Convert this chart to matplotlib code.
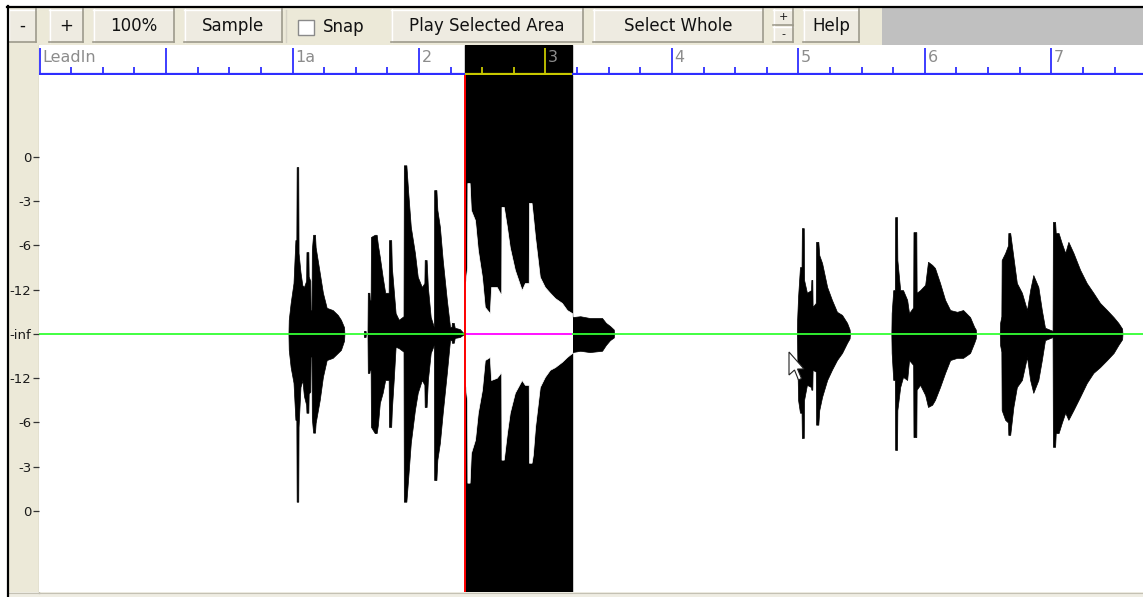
# -*- coding: utf-8 -*-
"""
Waveform editor view - audio track with bar ruler and selected area
Sortie: out.png (1143x597)
"""
import numpy as np
import matplotlib
matplotlib.use('Agg')
from matplotlib import pyplot as plt
from matplotlib.patches import Rectangle, Polygon
from matplotlib.lines import Line2D

##############################################################################
# DATA
##############################################################################

# waveform envelope, one list per note : (beat, top, bottom)
# beat 0 = bar "1a", amplitude in scale steps (4 = 0 dB)
CLIP1 = [(-0.13, 0, 0), (-0.12, 0.32, -0.36), (-0.06, 0.70, -0.75), (0.03, 1.15, -1.10),
         (0.09, 2.12, -1.94), (0.12, 2.12, -1.94), (0.13, 3.77, -3.79), (0.18, 3.77, -3.79),
         (0.19, 1.83, -2.10), (0.25, 1.40, -1.20), (0.31, 1.10, -1.04), (0.36, 1.06, -1.40),
         (0.43, 1.20, -1.60), (0.44, 1.85, -1.78), (0.50, 1.85, -1.78), (0.51, 1.30, -1.35),
         (0.56, 1.20, -1.30), (0.57, 0.54, -0.51), (0.60, 0.54, -0.51), (0.61, 1.90, -1.90),
         (0.65, 2.24, -2.23), (0.71, 2.24, -2.23), (0.73, 1.96, -2.01), (0.86, 1.38, -1.49),
         (0.96, 0.93, -0.97), (1.08, 0.59, -0.59), (1.27, 0.54, -0.54), (1.43, 0.43, -0.43),
         (1.53, 0.32, -0.36), (1.63, 0.15, -0.15), (1.64, 0, 0)]

CLIP2 = [(2.25, 0, 0), (2.26, 0.07, -0.07), (2.31, 0.07, -0.07), (2.32, 0, 0),
         (2.37, 0, 0), (2.38, 0.93, -0.88), (2.43, 0.93, -0.88), (2.44, 0.77, -0.81),
         (2.47, 0.77, -0.81), (2.48, 2.19, -2.10), (2.60, 2.24, -2.24), (2.66, 2.24, -2.24),
         (2.70, 2.01, -2.05), (2.76, 1.74, -1.56), (2.85, 1.29, -1.33), (2.93, 0.93, -1.04),
         (3.04, 0.93, -1.04), (3.05, 2.12, -2.10), (3.12, 2.12, -2.10), (3.14, 1.51, -1.72),
         (3.20, 0.99, -1.04), (3.26, 0.47, -0.29), (3.36, 0.32, -0.32), (3.51, 0.40, -0.40),
         (3.52, 3.81, -3.79), (3.60, 3.81, -3.79), (3.66, 3.18, -3.23), (3.74, 2.42, -2.46),
         (3.87, 1.83, -1.72), (3.96, 1.29, -1.33), (4.09, 1.06, -1.04), (4.17, 1.15, -1.15),
         (4.18, 1.67, -1.65), (4.24, 1.67, -1.65), (4.28, 1.06, -1.04), (4.37, 0.38, -0.43),
         (4.47, 0.16, -0.25), (4.48, 3.25, -3.30), (4.55, 3.25, -3.30), (4.58, 2.80, -2.84),
         (4.66, 2.42, -2.46), (4.75, 1.67, -1.78), (4.88, 0.77, -0.88), (4.98, 0.16, -0.14),
         (5.03, 0.16, -0.14), (5.04, 0.25, -0.20), (5.10, 0.25, -0.20), (5.13, 0.14, -0.09),
         (5.29, 0.11, -0.07), (5.43, 0, 0)]

CLIP3 = [(5.44, 0.99, -0.97), (5.52, 1.50, -1.50), (5.53, 3.41, -3.36), (5.60, 3.41, -3.36),
         (5.64, 2.80, -2.69), (5.77, 2.57, -2.39), (5.86, 1.90, -1.78), (5.99, 1.29, -1.26),
         (6.08, 0.61, -0.59), (6.24, 0.47, -0.52), (6.28, 1.06, -1.04), (6.46, 1.06, -0.99),
         (6.60, 0.88, -0.86), (6.61, 2.87, -2.84), (6.68, 2.87, -2.84), (6.78, 2.42, -2.24),
         (6.87, 1.96, -1.78), (7.03, 1.45, -1.33), (7.25, 0.99, -1.04), (7.35, 1.15, -1.15),
         (7.47, 1.15, -1.15), (7.48, 2.96, -2.91), (7.56, 2.96, -2.91), (7.60, 2.69, -2.73),
         (7.67, 2.19, -2.10), (7.82, 1.29, -1.20), (7.98, 1.06, -0.97), (8.14, 0.93, -0.81),
         (8.30, 0.81, -0.75), (8.52, 0.70, -0.63), (8.68, 0.54, -0.52), (8.84, 0.47, -0.43),
         (8.85, 0.38, -0.41), (9.10, 0.40, -0.38), (9.40, 0.36, -0.41), (9.79, 0.36, -0.38),
         (9.91, 0.25, -0.25), (10.04, 0.18, -0.14), (10.16, 0.10, -0.08), (10.17, 0, 0)]

CLIP4 = [(15.95, 0, 0), (15.96, 0.32, -0.29), (15.99, 0.84, -1.49), (16.05, 1.51, -1.78),
         (16.10, 1.51, -1.78), (16.11, 2.39, -2.35), (16.17, 2.39, -2.35), (16.18, 1.22, -1.49),
         (16.27, 0.93, -1.15), (16.40, 0.99, -1.20), (16.41, 1.22, -1.26), (16.44, 1.22, -1.26),
         (16.45, 0.61, -0.81), (16.55, 0.70, -0.85), (16.56, 2.08, -2.05), (16.63, 2.08, -2.05),
         (16.66, 1.78, -1.72), (16.75, 1.60, -1.42), (16.91, 1.06, -1.04), (17.06, 0.77, -0.81),
         (17.22, 0.50, -0.59), (17.38, 0.43, -0.43), (17.54, 0.25, -0.20), (17.62, 0.10, -0.10),
         (17.63, 0, 0)]

CLIP5 = [(18.94, 0, 0), (18.95, 0.47, -0.43), (19.00, 0.99, -1.04), (19.05, 0.99, -1.04),
         (19.06, 2.64, -2.62), (19.12, 2.64, -2.62), (19.13, 1.67, -1.72), (19.22, 0.99, -1.20),
         (19.31, 0.99, -0.97), (19.44, 0.77, -1.04), (19.50, 0.47, -0.59), (19.63, 0.60, -0.70),
         (19.64, 2.30, -2.33), (19.73, 2.30, -2.33), (19.74, 0.93, -1.26), (19.85, 0.99, -1.15),
         (20.01, 1.11, -1.38), (20.10, 1.63, -1.65), (20.23, 1.56, -1.60), (20.32, 1.49, -1.49),
         (20.48, 1.15, -1.20), (20.64, 0.77, -0.88), (20.80, 0.54, -0.59), (21.02, 0.50, -0.54),
         (21.21, 0.54, -0.54), (21.43, 0.38, -0.43), (21.56, 0.16, -0.20), (21.61, 0.10, -0.10),
         (21.62, 0, 0)]

CLIP6 = [(22.37, 0, 0), (22.38, 0.25, -0.25), (22.42, 0.40, -0.40), (22.43, 1.67, -1.72),
         (22.54, 1.83, -1.94), (22.63, 2.00, -2.00), (22.64, 2.28, -2.28), (22.70, 2.28, -2.28),
         (22.80, 1.74, -1.65), (22.91, 1.15, -1.20), (23.07, 0.93, -1.04), (23.23, 0.54, -0.52),
         (23.33, 0.99, -1.04), (23.43, 1.33, -1.33), (23.59, 1.06, -1.04), (23.70, 0.54, -0.59),
         (23.80, 0.14, -0.14), (24.04, 0.07, -0.07), (24.05, 2.53, -2.55), (24.12, 2.53, -2.55),
         (24.14, 2.28, -2.24), (24.23, 2.28, -2.24), (24.33, 2.05, -2.01), (24.44, 1.83, -1.78),
         (24.54, 2.08, -1.94), (24.70, 1.83, -1.72), (24.91, 1.45, -1.42), (25.12, 1.15, -1.11),
         (25.33, 0.93, -0.88), (25.54, 0.70, -0.75), (25.76, 0.54, -0.59), (25.97, 0.38, -0.43),
         (26.12, 0.25, -0.25), (26.24, 0.12, -0.12), (26.25, 0, 0)]

CLIPS = [CLIP1, CLIP2, CLIP3, CLIP4, CLIP5, CLIP6]

# selected area (beats)
SEL_START = 5.44
SEL_END = 8.84

# bar ruler
BAR_BEATS = [-8, -4, 0, 4, 8, 12, 16, 20, 24]
BAR_LABELS = ['LeadIn', '', '1a', '2', '3', '4', '5', '6', '7']

# level scale
LEVEL_POS = [4, 3, 2, 1, 0, -1, -2, -3, -4]
LEVEL_LABELS = ['0', '-3', '-6', '-12', '-inf', '-12', '-6', '-3', '0']

# toolbar buttons (label, left px, right px)
BUTTONS = [('-', 8, 36), ('+', 49, 83), ('100%', 93, 174), ('Sample', 184, 282),
           ('Play Selected Area', 391, 583), ('Select Whole', 593, 763), ('Help', 803, 859)]

##############################################################################
# LAYOUT / STYLE
##############################################################################

W, H = 1143, 597
BEIGE = '#ECE9D8'
FACE = '#EEEBE1'
SHADOW = '#9D9A8C'
BLUE = '#2E2EFF'
YELLOW = '#C8C800'
GREEN = '#33FF33'
MAGENTA = '#FF00FF'

X_LIM = (-8.02, 26.9)
Y_LIM = (-5.83, 5.85)

# mouse pointer (window pixels)
CURSOR_TIP = (789, 352)
CURSOR_SHAPE = [(0, 0), (0, 23), (5.5, 18), (9.5, 28), (12.5, 26.5), (8.5, 17), (15, 17)]

fig = plt.figure(figsize=(W / 100, H / 100), dpi=100)
fig.patch.set_facecolor('white')

# background axes in pixel units for window chrome
bg = fig.add_axes([0, 0, 1, 1], zorder=-5)
bg.set_xlim(0, W)
bg.set_ylim(H, 0)
bg.axis('off')

bg.add_patch(Rectangle((8, 8), W - 8, 37, facecolor=BEIGE, edgecolor='none'))
bg.add_patch(Rectangle((882, 8), W - 882, 37, facecolor='#C0C0C0', edgecolor='none'))
bg.add_patch(Rectangle((8, 45), 31, H - 45, facecolor=BEIGE, edgecolor='none'))
bg.add_patch(Rectangle((8, 592), W - 8, 5, facecolor='#EFEDE3', edgecolor='none'))
bg.plot([38.5, 38.5], [45, 593], color='#C4C1B4', lw=1)
bg.plot([8, W], [592.5, 592.5], color='#C4C1B4', lw=0.8)


def draw_button(x0, x1, label, y0=9, y1=42, size=12):
    bg.add_patch(Rectangle((x0, y0), x1 - x0, y1 - y0, facecolor=FACE, edgecolor='none'))
    bg.plot([x0, x1], [y0 + 0.5, y0 + 0.5], color='white', lw=1)
    bg.plot([x0 + 0.5, x0 + 0.5], [y0, y1], color='white', lw=1)
    bg.plot([x0, x1], [y1 - 0.5, y1 - 0.5], color=SHADOW, lw=1.2)
    bg.plot([x1 - 0.5, x1 - 0.5], [y0, y1], color=SHADOW, lw=1.2)
    if label:
        bg.text((x0 + x1) / 2, (y0 + y1) / 2 + 0.5, label, ha='center', va='center',
                fontsize=size, color='#111111')


for label, x0, x1 in BUTTONS:
    draw_button(x0, x1, label)

# spinner +/-
draw_button(773, 793, '+', 9, 25, size=8)
draw_button(773, 793, '-', 26, 42, size=8)

# Snap checkbox
bg.add_patch(Rectangle((298, 19.5), 16, 15.5, facecolor='white', edgecolor='#8A8A8A', lw=1))
bg.text(323, 26.5, 'Snap', ha='left', va='center', fontsize=12, color='#111111')
bg.plot([285.5, 285.5], [10, 42], color='#D6D3C6', lw=1)

##############################################################################
# RULER
##############################################################################

ax_r = fig.add_axes([39 / W, 1 - 75 / H, (W - 39) / W, 30 / H])
ax_r.set_xlim(*X_LIM)
ax_r.set_ylim(0, 1)
ax_r.axis('off')
ax_r.add_patch(Rectangle((-0.01, 0), 1.02, 1, transform=ax_r.transAxes,
                         facecolor='white', edgecolor='none', zorder=0))
ax_r.axvspan(SEL_START, SEL_END, color='black', zorder=1)

beats = np.arange(np.ceil(X_LIM[0]), X_LIM[1])
in_sel = (beats > SEL_START) & (beats < SEL_END)
major = (beats % 4 == 0)
base_y = 0.035
for colour, mask in [(BLUE, ~in_sel), (YELLOW, in_sel)]:
    ax_r.vlines(beats[mask & major], base_y, 0.9, color=colour, lw=1.3, zorder=3)
    ax_r.vlines(beats[mask & ~major], base_y, 0.26, color=colour, lw=1.3, zorder=3)
ax_r.hlines(base_y, X_LIM[0], SEL_START, color=BLUE, lw=1.6, zorder=3)
ax_r.hlines(base_y, SEL_START, SEL_END, color=YELLOW, lw=1.6, zorder=3)
ax_r.hlines(base_y, SEL_END, X_LIM[1], color=BLUE, lw=1.6, zorder=3)

for b, lab in zip(BAR_BEATS, BAR_LABELS):
    ax_r.annotate(lab, xy=(b, 0.85), xytext=(2, 0), textcoords='offset points',
                  ha='left', va='top', fontsize=11.5, color='#8C8C8C', zorder=4)

##############################################################################
# WAVEFORM
##############################################################################

ax = fig.add_axes([39 / W, 1 - 592 / H, (W - 39) / W, (592 - 75) / H])
ax.set_xlim(*X_LIM)
ax.set_ylim(*Y_LIM)
ax.set_facecolor('white')
for s in ax.spines.values():
    s.set_visible(False)

ax.axvspan(SEL_START, SEL_END, color='black', zorder=1)
sel_clip = Rectangle((SEL_START, Y_LIM[0]), SEL_END - SEL_START, Y_LIM[1] - Y_LIM[0],
                     transform=ax.transData, facecolor='none', edgecolor='none')

for clip in CLIPS:
    x, top, bot = np.array(clip, dtype=float).T
    ax.fill_between(x, top, bot, color='black', lw=0.5, zorder=2)
    inv = ax.fill_between(x, top, bot, color='white', lw=0.5, zorder=3)
    inv.set_clip_path(sel_clip)

ax.hlines(0, X_LIM[0], SEL_START, color=GREEN, lw=1.3, zorder=4)
ax.hlines(0, SEL_START, SEL_END, color=MAGENTA, lw=1.3, zorder=4)
ax.hlines(0, SEL_END, X_LIM[1], color=GREEN, lw=1.3, zorder=4)
ax.axvline(SEL_START, color='red', lw=1.4, zorder=5)

ax.set_xticks([])
ax.set_yticks(LEVEL_POS)
ax.set_yticklabels(LEVEL_LABELS, fontsize=9.5, color='#1A1A1A')
ax.tick_params(axis='y', length=4.5, width=0.9, pad=1.0, color='#333333')

##############################################################################
# WINDOW BORDER + POINTER
##############################################################################

fig.add_artist(Rectangle((0, 0), 7 / W, 1, transform=fig.transFigure,
                         facecolor='white', edgecolor='none', zorder=10))
fig.add_artist(Rectangle((0, 1 - 6 / H), 1, 6 / H, transform=fig.transFigure,
                         facecolor='white', edgecolor='none', zorder=10))
fig.add_artist(Line2D([7.5 / W, 7.5 / W], [0, 1 - 6 / H], transform=fig.transFigure,
                      color='black', lw=1.6, zorder=11))
fig.add_artist(Line2D([7 / W, 1], [1 - 7 / H, 1 - 7 / H], transform=fig.transFigure,
                      color='black', lw=1.6, zorder=11))

cursor = [((CURSOR_TIP[0] + dx) / W, 1 - (CURSOR_TIP[1] + dy) / H) for dx, dy in CURSOR_SHAPE]
fig.add_artist(Polygon(cursor, closed=True, transform=fig.transFigure, facecolor='white',
                       edgecolor='#222222', lw=0.8, zorder=12))

fig.savefig('out.png', dpi=100)
plt.close(fig)
